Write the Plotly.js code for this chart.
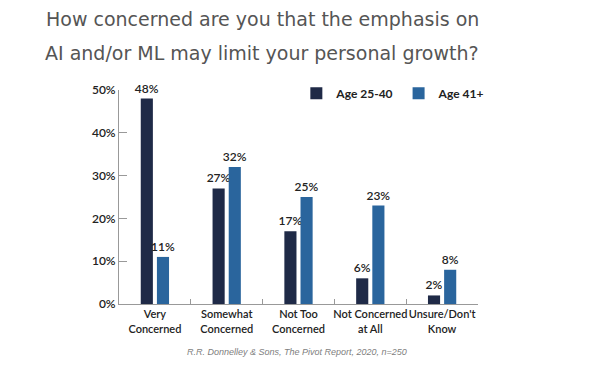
<!DOCTYPE html>
<html>
<head>
<meta charset="utf-8">
<script src="https://cdn.plot.ly/plotly-3.0.1.min.js"></script>
<style>html,body{margin:0;padding:0;background:#fff;}#chart{width:600px;height:368px;}</style>
</head>
<body>
<div id="chart"></div>
<script>
const categories = ["Very<br>Concerned", "Somewhat<br>Concerned", "Not Too<br>Concerned", "Not Concerned<br>at All", "Unsure/Don't<br>Know"];
const age2540 = [48, 27, 17, 6, 2];
const age41 = [11, 32, 25, 23, 8];
const seriesNames = ["Age 25-40", "Age 41+"];
const titleLines = ["How concerned are you that the emphasis on", "AI and/or ML may limit your personal growth?"];
const sourceNote = "R.R. Donnelley & Sons, The Pivot Report, 2020, n=250";

const lblFont = {family: "Lato, sans-serif", size: 12, color: "#222", weight: 600};

const traces = [
  {type: "bar", name: seriesNames[0], x: categories, y: age2540,
   marker: {color: "#1f2a47"}, text: age2540.map(v => v + "%"), textposition: "outside",
   textfont: lblFont, constraintext: "none", cliponaxis: false, hoverinfo: "skip"},
  {type: "bar", name: seriesNames[1], x: categories, y: age41,
   marker: {color: "#2a659d"}, text: age41.map(v => v + "%"), textposition: "outside",
   textfont: lblFont, constraintext: "none", cliponaxis: false, hoverinfo: "skip"}
];

const titleFont = {family: "DejaVu Sans, sans-serif", size: 19, color: "#555"};

const layout = {
  width: 600, height: 368,
  margin: {l: 119, r: 122, t: 90, b: 64},
  paper_bgcolor: "#fff", plot_bgcolor: "#fff",
  barmode: "group", bargap: 0.55, bargroupgap: 0.25,
  showlegend: true,
  legend: {orientation: "h", x: 0.494, y: 0.985, xanchor: "left", yanchor: "middle",
    font: {family: "Lato, sans-serif", size: 12, color: "#222", weight: 700},
    bgcolor: "rgba(0,0,0,0)", itemwidth: 30, traceorder: "normal"},
  xaxis: {type: "category", showline: true, linecolor: "#999", linewidth: 1,
    ticks: "inside", ticklen: 5, tickcolor: "#999", tickson: "boundaries", tickangle: 0,
    tickfont: {family: "Lato, sans-serif", size: 11, color: "#222", weight: 600},
    showgrid: false, zeroline: false, fixedrange: true},
  yaxis: {range: [0, 50], dtick: 10, ticksuffix: "%", showline: true, linecolor: "#999", linewidth: 1,
    ticks: "inside", ticklen: 8, tickcolor: "#999",
    tickfont: {family: "Lato, sans-serif", size: 12, color: "#222", weight: 600},
    showgrid: false, zeroline: false, fixedrange: true},
  annotations: [
    {text: titleLines[0], xref: "paper", yref: "paper", x: 0.399, y: 1.33, xanchor: "center", yanchor: "middle", showarrow: false, font: titleFont},
    {text: titleLines[1], xref: "paper", yref: "paper", x: 0.399, y: 1.175, xanchor: "center", yanchor: "middle", showarrow: false, font: titleFont},
    {text: "<i>" + sourceNote + "</i>", xref: "paper", yref: "paper", x: 0.497, y: -0.224, xanchor: "center", yanchor: "middle", showarrow: false,
     font: {family: "Liberation Sans, sans-serif", size: 9, color: "#808080"}}
  ]
};

Plotly.newPlot("chart", traces, layout, {displayModeBar: false, staticPlot: true});
</script>
</body>
</html>
